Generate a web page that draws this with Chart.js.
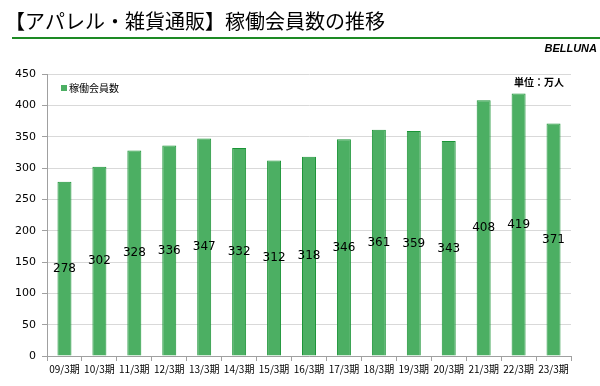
<!DOCTYPE html>
<html lang="ja">
<head>
  <meta charset="UTF-8" />
  <title>稼働会員数の推移</title>
  <script src="https://cdn.jsdelivr.net/npm/chart.js"></script>
  <style>
    html, body { margin: 0; padding: 0; background: #fff; }
    #wrap { width: 600px; height: 386px; position: relative; }
  </style>
</head>
<body>
  <div id="wrap"><canvas id="memberChart"></canvas></div>

  <script>
    const periods = ['09/3期', '10/3期', '11/3期', '12/3期', '13/3期', '14/3期', '15/3期', '16/3期',
                     '17/3期', '18/3期', '19/3期', '20/3期', '21/3期', '22/3期', '23/3期'];
    const members = [278, 302, 328, 336, 347, 332, 312, 318, 346, 361, 359, 343, 408, 419, 371];
    const seriesName = '稼働会員数';
    const yTicks = [0, 50, 100, 150, 200, 250, 300, 350, 400, 450];

    const numFont = "'DejaVu Sans', 'Noto Sans CJK JP', sans-serif";
    const jpFont = "'Noto Sans CJK JP', sans-serif";

    // header, legend, unit text and in-bar values
    const decor = {
      id: 'decor',
      afterDraw(chart) {
        const ctx = chart.ctx;
        ctx.save();
        ctx.fillStyle = '#000';
        ctx.font = '20px ' + jpFont;
        ctx.textBaseline = 'middle';
        ctx.textAlign = 'left';
        ctx.fillText('【アパレル・雑貨通販】稼働会員数の推移', 5, 21);

        ctx.strokeStyle = '#1d8a24';
        ctx.lineWidth = 2;
        ctx.beginPath();
        ctx.moveTo(12, 38);
        ctx.lineTo(600, 38);
        ctx.stroke();

        ctx.font = "italic bold 11px 'Liberation Sans', sans-serif";
        ctx.textAlign = 'right';
        ctx.fillText('BELLUNA', 597, 49);

        ctx.font = 'bold 10px ' + jpFont;
        ctx.fillText('単位：万人', 564, 82);

        // legend
        ctx.fillStyle = '#4caf63';
        ctx.fillRect(61, 85, 6, 6);
        ctx.fillStyle = '#000';
        ctx.textAlign = 'left';
        ctx.font = '10px ' + jpFont;
        ctx.fillText(seriesName, 69, 88);

        // values in the middle of each bar
        const meta = chart.getDatasetMeta(0);
        const y = chart.scales.y;
        ctx.font = '12px ' + numFont;
        ctx.textAlign = 'center';
        meta.data.forEach((bar, i) => {
          ctx.fillText(members[i], bar.x, y.getPixelForValue(members[i] / 2));
        });
        ctx.restore();
      }
    };

    new Chart(document.getElementById('memberChart'), {
      type: 'bar',
      data: {
        labels: periods,
        datasets: [{
          label: seriesName,
          data: members,
          backgroundColor: '#4caf63',
          borderColor: '#1a9436',
          borderWidth: 1,
          categoryPercentage: 1,
          barPercentage: 0.4
        }]
      },
      options: {
        responsive: true,
        maintainAspectRatio: false,
        animation: false,
        layout: { padding: { top: 74, left: 0, right: 29, bottom: 0 } },
        plugins: {
          legend: { display: false },
          tooltip: { enabled: false }
        },
        scales: {
          x: {
            offset: true,
            grid: { display: true, offset: true, drawOnChartArea: false, tickLength: 5, color: '#a0a0a0' },
            border: { color: '#a0a0a0' },
            ticks: { color: '#000', font: { size: 10, family: jpFont }, padding: 2, maxRotation: 0, autoSkip: false },
            afterFit(scale) { scale.height = 30; }
          },
          y: {
            min: 0,
            max: 450,
            afterBuildTicks(scale) { scale.ticks = yTicks.map(v => ({ value: v })); },
            grid: { color: '#d9d9d9', tickLength: 5, tickColor: '#a0a0a0' },
            border: { color: '#a0a0a0' },
            ticks: { color: '#000', font: { size: 11, family: numFont }, padding: 6 },
            afterFit(scale) { scale.width = 47; }
          }
        }
      },
      plugins: [decor]
    });
  </script>
</body>
</html>
